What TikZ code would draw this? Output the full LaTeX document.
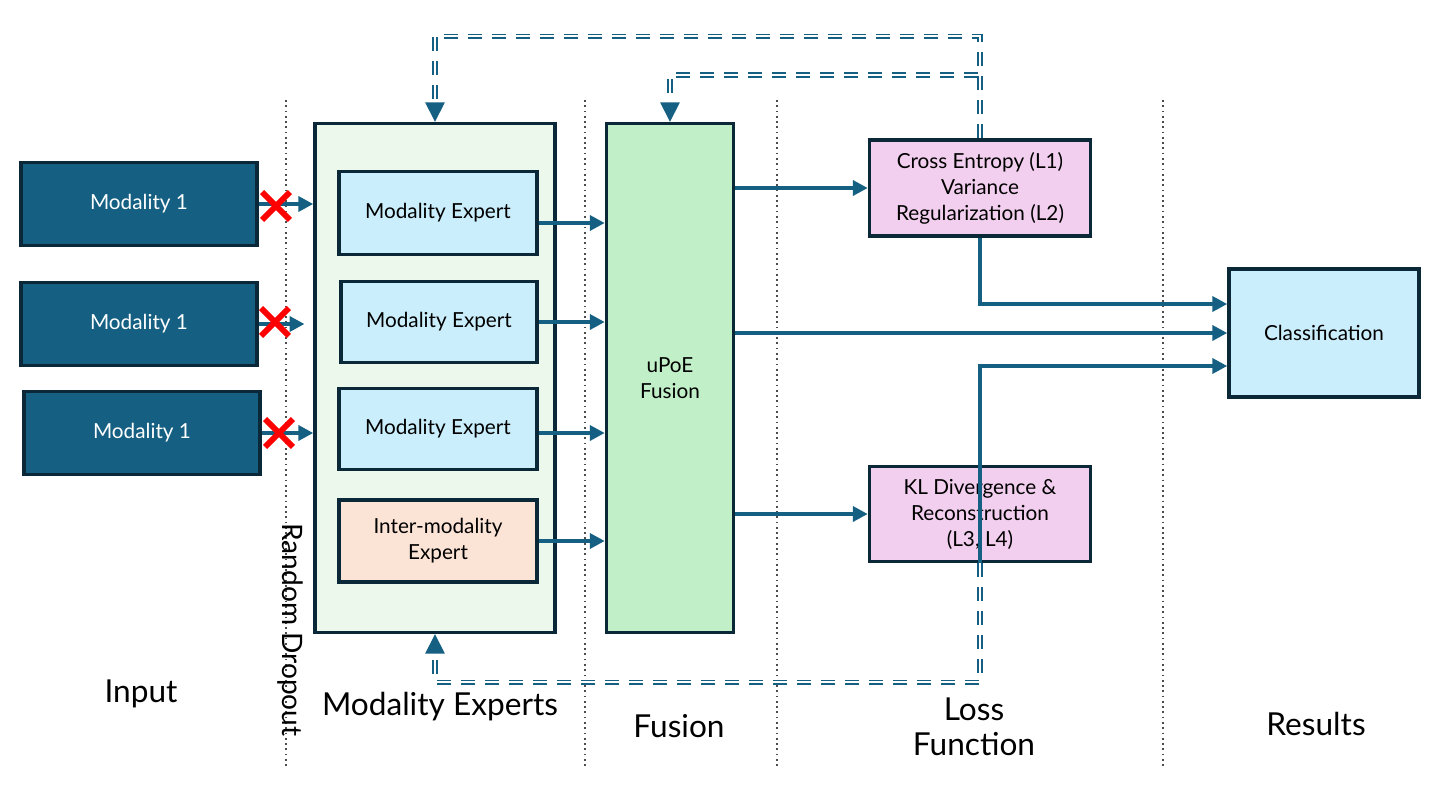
\documentclass[tikz,border=0pt]{standalone}
\usepackage{fontspec}
\setmainfont{Lato}
\usetikzlibrary{arrows.meta,shapes.misc}
\definecolor{navy}{HTML}{0B2838}
\definecolor{teal}{HTML}{156082}
\definecolor{expgreen}{HTML}{EBF8EB}
\definecolor{expblue}{HTML}{CAEEFB}
\definecolor{peach}{HTML}{FBE3D6}
\definecolor{fusgreen}{HTML}{C1F0C8}
\definecolor{pink}{HTML}{F2CFEE}
\begin{document}
\begin{tikzpicture}[x=0.02cm,y=-0.02cm,box/.style={draw=navy,line width=2pt,align=center,inner sep=0pt,font=\fontsize{11.8}{14.8}\selectfont},link/.style={draw=teal,line width=2.2pt,-{Triangle[length=8.5pt,width=8.5pt]}},fb/.style={draw=teal,line width=0.9pt,double=white,double distance=1.1pt,dash pattern=on 0.28cm off 0.2cm,-{Triangle[length=11pt,width=11pt]}},sep/.style={draw=black!70,dotted,line width=1pt},title/.style={align=center,font=\fontsize{18}{20}\selectfont},drop/.style={draw=red,cross out,line width=3.4pt,minimum size=0.44cm,inner sep=0pt}]
\useasboundingbox (0,0) rectangle (1445,802);
\foreach \x in {286,585,777,1163} \draw[sep] (\x,100) -- (\x,768);
% inputs
\node[box,fill=teal,text=white,minimum width=4.72cm,minimum height=1.66cm] (mod1) at (139,204) {Modality 1};
\node[box,fill=teal,text=white,minimum width=4.72cm,minimum height=1.66cm] (mod2) at (139,324) {Modality 1};
\node[box,fill=teal,text=white,minimum width=4.72cm,minimum height=1.66cm] (mod3) at (142,433) {Modality 1};
% experts
\node[box,fill=expgreen,minimum width=4.8cm,minimum height=10.18cm] (expbox) at (435,378) {};
\node[box,fill=expblue,minimum width=3.96cm,minimum height=1.66cm] (exp1) at (438,213) {Modality Expert};
\node[box,fill=expblue,minimum width=3.92cm,minimum height=1.62cm] (exp2) at (439,322) {Modality Expert};
\node[box,fill=expblue,minimum width=3.96cm,minimum height=1.62cm] (exp3) at (438,429) {Modality Expert};
\node[box,fill=peach,minimum width=3.96cm,minimum height=1.64cm] (inter) at (438,541) {Inter-modality\\Expert};
% fusion, losses, results
\node[box,fill=fusgreen,minimum width=2.54cm,minimum height=10.18cm] (fusion) at (670,378) {uPoE\\Fusion};
\node[box,fill=pink,minimum width=4.42cm,minimum height=1.92cm] (loss1) at (980,188) {Cross Entropy (L1)\\Variance\\Regularization (L2)};
\node[box,fill=pink,minimum width=4.42cm,minimum height=1.9cm] (loss2) at (980,514) {KL Divergence \&\\Reconstruction\\(L3, L4)};
\node[box,fill=expblue,minimum width=3.8cm,minimum height=2.56cm] (cls) at (1324,333) {Classification};
% connectors
\draw[link] (mod1.east) -- (mod1.east -| expbox.west);
\draw[link,shorten >=5pt] (mod2.east) -- (mod2.east -| expbox.west);
\draw[link] (mod3.east) -- (mod3.east -| expbox.west);
\node[drop] (x1) at (276,206) {};
\node[drop] (x2) at (275,322) {};
\node[drop] (x3) at (279,433) {};
\draw[link] ([yshift=-0.2cm]exp1.east) -- ([yshift=-0.2cm]exp1.east -| fusion.west);
\draw[link] (exp2.east) -- (exp2.east -| fusion.west);
\draw[link] ([yshift=-0.08cm]exp3.east) -- ([yshift=-0.08cm]exp3.east -| fusion.west);
\draw[link] (inter.east) -- (inter.east -| fusion.west);
\draw[link] (fusion.east |- loss1.west) -- (loss1.west);
\draw[link] (fusion.east |- loss2.west) -- (loss2.west);
\draw[link] (fusion.east |- cls.west) -- (cls.west);
\draw[link] (loss1.south) |- ([yshift=0.58cm]cls.west);
\draw[link] (loss2.south) |- ([yshift=-0.66cm]cls.west);
% feedback
\coordinate (fbjoin) at (978,75);
\draw[fb] (loss1.north) -- ++(0,-102) -| (expbox.north);
\draw[fb] (fbjoin) -| (fusion.north);
\draw[fb] (loss2.south) -- ++(0,119) -| (expbox.south);
% titles
\node[title] (tin) at (141,694) {Input};
\node[title] (texp) at (440,707) {Modality Experts};
\node[title] (tfus) at (679,726) {Fusion};
\node[title] (tloss) at (974,727) {Loss\\Function};
\node[title] (tres) at (1316,724) {Results};
\node[title,rotate=-90,font=\fontsize{16}{18}\selectfont] (tdrop) at (290,630) {Random Dropout};
\end{tikzpicture}
\end{document}
